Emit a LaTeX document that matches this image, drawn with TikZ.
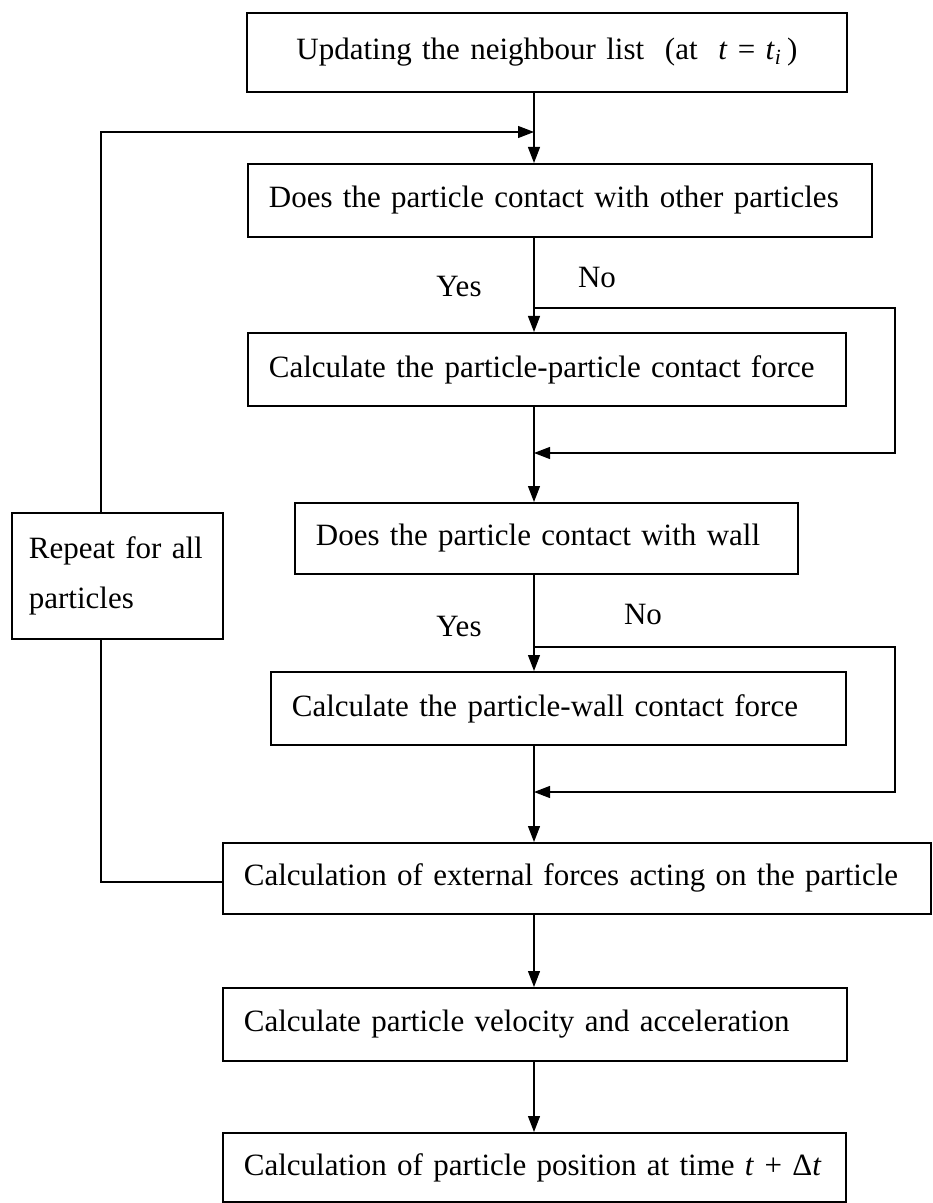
\documentclass[tikz,border=0pt]{standalone}
\usepackage{fontspec}
\setmainfont{Liberation Serif}
\usetikzlibrary{arrows.meta}

\begin{document}
\begin{tikzpicture}[x=0.5pt,y=-0.5pt,
  every node/.style={font=\fontsize{15.5}{25}\selectfont},
  box/.style={draw,line width=0.9pt,anchor=north west,inner xsep=10.5pt,inner ysep=0pt,align=left,minimum height=36.5pt},
  link/.style={line width=0.6pt},
  arr/.style={link,-{Triangle[length=8pt,width=6pt]}}]
  \useasboundingbox (0,0) rectangle (932,1203);

  \node[box,align=center,text width=279pt,minimum height=39.5pt] (upd) at (246,12) {Updating the neighbour list~ (at~ \textit{t} = \textit{t}\textsubscript{\textit{i}}\,)};
  \node[box,text width=291pt] (cpp) at (247,163) {Does the particle contact with other particles};
  \node[box,text width=278pt] (fpp) at (247,332) {Calculate the particle-particle contact force};
  \node[box,text width=230.5pt,minimum height=35.5pt] (cpw) at (294,502) {Does the particle contact with wall};
  \node[box,text width=266.5pt] (fpw) at (270,671) {Calculate the particle-wall contact force};
  \node[box,text width=333pt,minimum height=35.5pt] (ext) at (222,842) {\mbox{Calculation of external forces acting on the particle}};
  \node[box,text width=291pt] (vel) at (222,987) {Calculate particle velocity and acceleration};
  \node[box,text width=290.5pt,minimum height=34.5pt] (pos) at (222,1132) {\mbox{Calculation of particle position at time \textit{t} + Δ\textit{t}}};
  \node[box,text width=88.5pt,inner xsep=8.5pt,minimum height=63pt] (rep) at (11,512) {Repeat for all particles};

  \node (yes1) at (459,287) {Yes};
  \node (no1) at (597,278) {No};
  \node (yes2) at (459,626) {Yes};
  \node (no2) at (643,614) {No};

  \coordinate (j1) at (534,132);
  \coordinate (lft) at (101,132);
  \coordinate (n1) at (534,308);
  \coordinate (r1) at (895,308);
  \coordinate (m1) at (534,453);
  \coordinate (n2) at (534,647);
  \coordinate (r2) at (895,647);
  \coordinate (m2) at (534,792);
  \coordinate (e1) at (101,882);

  \draw[arr] (upd.south -| j1) -- (cpp.north -| j1);
  \draw[arr] (rep.north -| lft) |- (j1);
  \draw[arr] (cpp.south -| j1) -- (fpp.north -| j1);
  \draw[arr] (n1) -- (r1) |- (m1);
  \draw[arr] (fpp.south -| j1) -- (cpw.north -| j1);
  \draw[arr] (cpw.south -| j1) -- (fpw.north -| j1);
  \draw[arr] (n2) -- (r2) |- (m2);
  \draw[arr] (fpw.south -| j1) -- (ext.north -| j1);
  \draw[arr] (ext.south -| j1) -- (vel.north -| j1);
  \draw[arr] (vel.south -| j1) -- (pos.north -| j1);
  \draw[link] (ext.west |- e1) -| (rep.south -| lft);
\end{tikzpicture}
\end{document}
